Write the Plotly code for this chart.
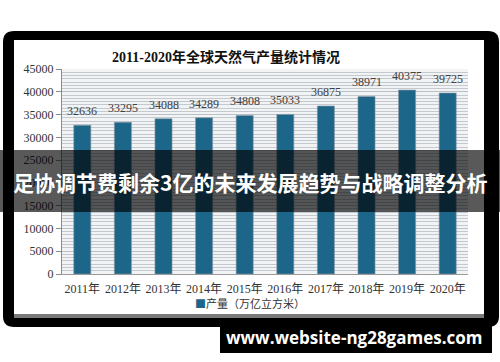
import plotly.graph_objects as go

years = ["2011年", "2012年", "2013年", "2014年", "2015年", "2016年", "2017年", "2018年", "2019年", "2020年"]
output = [32636, 33295, 34088, 34289, 34808, 35033, 36875, 38971, 40375, 39725]
y_ticks = [0, 5000, 10000, 15000, 20000, 25000, 30000, 35000, 40000, 45000]
title_text = "2011-2020年全球天然气产量统计情况"
legend_text = "产量（万亿立方米）"
banner_text = "足协调节费剩余3亿的未来发展趋势与战略调整分析"
footer_text = "www.website-ng28games.com"

# plot area in pixels
L, R, T, B = 62, 468, 69, 274
W_PX, H_PX = 500, 362
PW, PH = R - L, B - T


def px(x):
    return (x - L) / PW


def py(y):
    return (B - y) / PH


def rrect(x0, y0, x1, y1, r):
    pts = [
        f"M {px(x0 + r)},{py(y0)}",
        f"L {px(x1 - r)},{py(y0)}",
        f"Q {px(x1)},{py(y0)} {px(x1)},{py(y0 + r)}",
        f"L {px(x1)},{py(y1 - r)}",
        f"Q {px(x1)},{py(y1)} {px(x1 - r)},{py(y1)}",
        f"L {px(x0 + r)},{py(y1)}",
        f"Q {px(x0)},{py(y1)} {px(x0)},{py(y1 - r)}",
        f"L {px(x0)},{py(y0 + r)}",
        f"Q {px(x0)},{py(y0)} {px(x0 + r)},{py(y0)}",
        "Z",
    ]
    return " ".join(pts)


def rect(x0, y0, x1, y1, color, layer="below", line=None):
    return dict(type="rect", xref="paper", yref="paper",
                x0=px(x0), x1=px(x1), y0=py(y1), y1=py(y0),
                fillcolor=color, line=line or dict(width=0), layer=layer)


fig = go.Figure()
fig.add_trace(go.Bar(
    x=years, y=output, name=legend_text,
    marker=dict(color="#1c6689", line=dict(color="rgba(140,150,160,0.6)", width=1)),
    width=0.42, showlegend=False,
))

shapes = [
    dict(type="path", xref="paper", yref="paper", path=rrect(3, 31, 499, 327, 11),
         fillcolor="#000000", line=dict(width=0), layer="below"),
    rect(14, 40, 484, 318, "#ffffff"),
    rect(14, 314, 484, 318, "#7a7a7a"),
    rect(L, T, R, B, "#f1f3f5"),
    # overlay banner
    rect(0, 150, 500, 212, "rgba(0,0,0,0.65)", layer="above"),
    # footer banner
    rect(220, 322, 492, 353, "#000000", layer="above"),
]

annotations = [
    dict(text=f"<b>{title_text}</b>", x=px(226), y=py(57), xref="paper", yref="paper",
         showarrow=False, font=dict(family="Liberation Serif, Noto Sans CJK SC", size=14, color="#111111"),
         xanchor="center", yanchor="middle"),
    dict(text=f"<span style='color:#1c6689'>■</span>{legend_text}", x=px(250), y=py(303),
         xref="paper", yref="paper", showarrow=False,
         font=dict(family="Noto Sans CJK SC", size=11, color="#333333"),
         xanchor="center", yanchor="middle"),
    dict(text=f"<b>{banner_text}</b>", x=px(250), y=py(182), xref="paper", yref="paper",
         showarrow=False, font=dict(family="Noto Sans CJK SC", size=21, color="#ffffff"),
         xanchor="center", yanchor="middle"),
    dict(text=f"<b>{footer_text}</b>", x=px(354), y=py(337), xref="paper", yref="paper",
         showarrow=False, font=dict(family="Open Sans, DejaVu Sans", size=17, color="#ffffff"),
         xanchor="center", yanchor="middle"),
]
for yr, v in zip(years, output):
    annotations.append(dict(text=str(v), x=yr, y=v, xref="x", yref="y", showarrow=False,
                            yanchor="bottom", yshift=5,
                            font=dict(family="Liberation Serif", size=12, color="#404040")))

fig.update_layout(
    width=W_PX, height=H_PX,
    margin=dict(l=L, r=W_PX - R, t=T, b=H_PX - B, pad=0),
    paper_bgcolor="#ffffff", plot_bgcolor="rgba(0,0,0,0)",
    shapes=shapes, annotations=annotations, bargap=0.58,
    font=dict(family="Liberation Serif, Noto Sans CJK SC", size=12, color="#333333"),
)
fig.update_xaxes(
    showgrid=False, showline=True, linecolor="#9a9a9a", linewidth=1,
    ticks="", tickfont=dict(family="Liberation Serif, Noto Sans CJK SC", size=12, color="#333333"),
    ticklabelstandoff=4,
)
fig.update_yaxes(
    range=[0, 45000], tickvals=y_ticks, ticktext=[str(v) for v in y_ticks],
    showgrid=True, gridcolor="#b9c0c8", gridwidth=1,
    minor=dict(dtick=5000 / 7, showgrid=True, gridcolor="#c3c9cf", gridwidth=1),
    showline=True, linecolor="#8a8a8a", linewidth=1, ticks="outside", ticklen=5, tickcolor="#8a8a8a",
    tickfont=dict(family="Liberation Serif", size=12, color="#333333"), zeroline=False,
)

fig.write_html("out.html", config={"displayModeBar": False},
               post_script="document.body.style.margin='0';document.body.style.overflow='hidden';")
